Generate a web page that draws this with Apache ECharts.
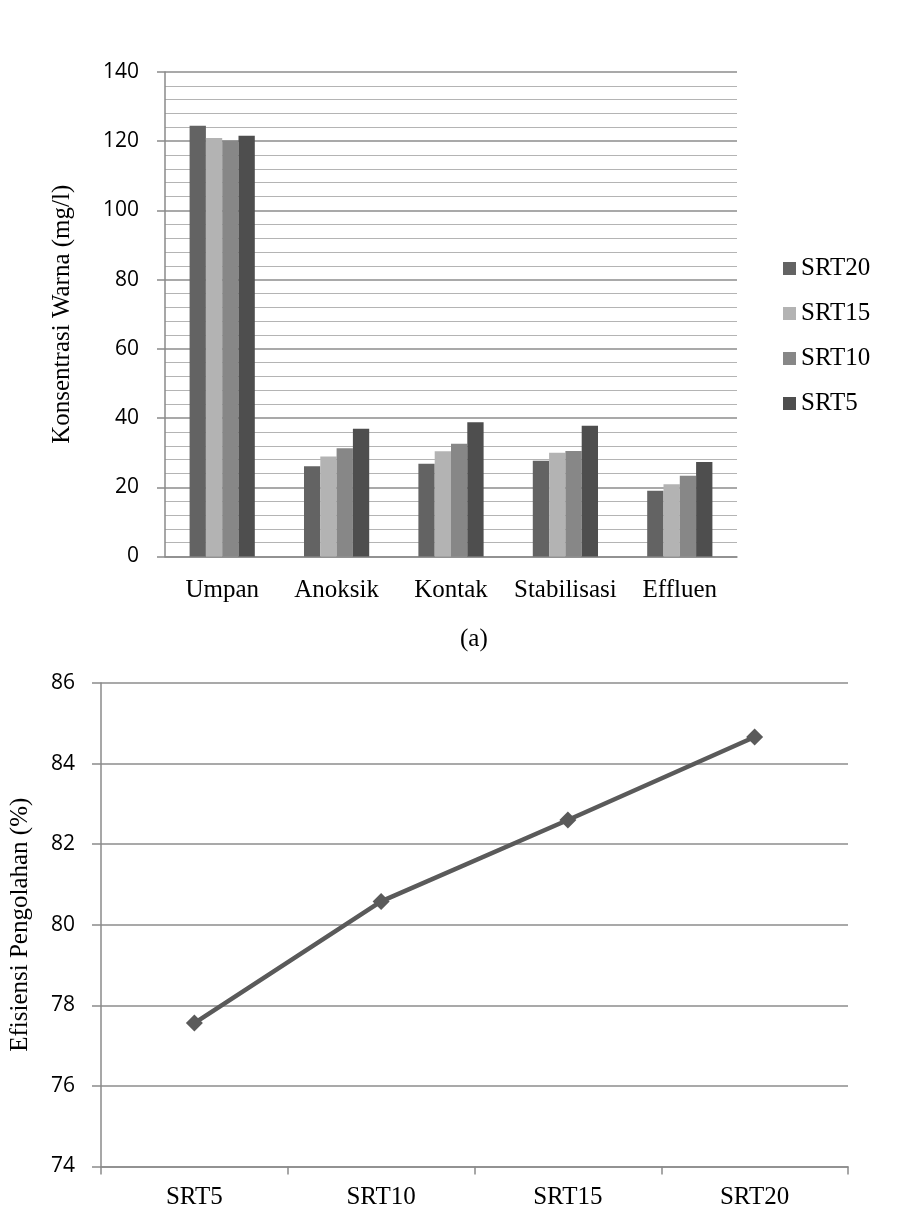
<!DOCTYPE html>
<html>
<head>
<meta charset="utf-8">
<script src="https://cdn.jsdelivr.net/npm/echarts@6/dist/echarts.min.js"></script>
<style>
  html, body { margin: 0; padding: 0; background: #fff; }
  #chart { width: 914px; height: 1212px; }
</style>
</head>
<body>
<div id="chart"></div>
<script>
// top chart (a): colour concentration per unit
var stages = ['Umpan', 'Anoksik', 'Kontak', 'Stabilisasi', 'Effluen'];
var srt20 = [124.5, 26.1, 26.8, 27.7, 19.0];
var srt15 = [120.9, 28.9, 30.4, 30.0, 20.9];
var srt10 = [120.2, 31.3, 32.6, 30.5, 23.3];
var srt5 = [121.6, 36.9, 38.8, 37.8, 27.3];

// bottom chart: treatment efficiency
var srtLabels = ['SRT5', 'SRT10', 'SRT15', 'SRT20'];
var efisiensi = [77.56, 80.58, 82.6, 84.66];

var serif = 'Liberation Serif';
var sans = 'Open Sans';
var axisGray = '#8a8a8a';

var chartDom = document.getElementById('chart');
var myChart = echarts.init(chartDom, null, { renderer: 'canvas' });

function bar(name, data, color) {
    return {
        name: name,
        type: 'bar',
        xAxisIndex: 0,
        yAxisIndex: 0,
        data: data,
        barGap: '0%',
        barCategoryGap: '43%',
        itemStyle: { color: color },
        animation: false
    };
}

var option = {
    backgroundColor: '#fff',
    animation: false,
    grid: [
        { left: 165, right: 177, top: 72, height: 484.5 },
        { left: 98, right: 66, top: 683, height: 483.5 }
    ],
    legend: {
        orient: 'vertical',
        left: 778,
        top: 251,
        itemWidth: 13,
        itemHeight: 13,
        itemGap: 20,
        icon: 'rect',
        data: ['SRT20', 'SRT15', 'SRT10', 'SRT5'],
        textStyle: { fontFamily: serif, fontSize: 25, color: '#000', lineHeight: 25 }
    },
    xAxis: [
        {
            gridIndex: 0,
            type: 'category',
            data: stages,
            axisLine: { lineStyle: { color: axisGray, width: 1.5 } },
            axisTick: { show: false },
            axisLabel: { interval: 0, fontFamily: serif, fontSize: 25, color: '#000', margin: 21 }
        },
        {
            gridIndex: 1,
            type: 'category',
            data: srtLabels,
            axisLine: { lineStyle: { color: axisGray, width: 1.5 } },
            axisTick: { show: true, length: 8, lineStyle: { color: axisGray, width: 1.5 } },
            axisLabel: { interval: 0, fontFamily: serif, fontSize: 25, color: '#000', margin: 18 }
        }
    ],
    yAxis: [
        {
            gridIndex: 0,
            type: 'value',
            min: 0,
            max: 140,
            interval: 20,
            name: 'Konsentrasi Warna (mg/l)',
            nameLocation: 'middle',
            nameGap: 90,
            nameTextStyle: { fontFamily: serif, fontSize: 25, color: '#000' },
            axisLine: { show: true, lineStyle: { color: axisGray, width: 1.5 } },
            axisTick: { show: true, length: 8, lineStyle: { color: axisGray, width: 1.5 } },
            axisLabel: { fontFamily: sans, fontSize: 21, color: '#000', margin: 26 },
            splitLine: { show: true, lineStyle: { color: '#8c8c8c', width: 1.5 } },
            minorTick: { show: false, splitNumber: 5 },
            minorSplitLine: { show: true, lineStyle: { color: '#b4b4b4', width: 1 } }
        },
        {
            gridIndex: 1,
            type: 'value',
            min: 74,
            max: 86,
            interval: 2,
            name: 'Efisiensi Pengolahan (%)',
            nameLocation: 'middle',
            nameGap: 68,
            nameTextStyle: { fontFamily: serif, fontSize: 25, color: '#000' },
            axisLine: { show: true, lineStyle: { color: axisGray, width: 1.5 } },
            axisTick: { show: true, length: 9, lineStyle: { color: axisGray, width: 1.5 } },
            axisLabel: { fontFamily: sans, fontSize: 21, color: '#000', margin: 26 },
            splitLine: { show: true, lineStyle: { color: '#8c8c8c', width: 1.5 } }
        }
    ],
    graphic: [
        {
            type: 'text',
            left: 460,
            top: 627,
            style: { text: '(a)', font: '25px "Liberation Serif"', fill: '#000' }
        }
    ],
    series: [
        bar('SRT20', srt20, '#636363'),
        bar('SRT15', srt15, '#b3b3b3'),
        bar('SRT10', srt10, '#878787'),
        bar('SRT5', srt5, '#4e4e4e'),
        {
            name: 'Efisiensi',
            type: 'line',
            xAxisIndex: 1,
            yAxisIndex: 1,
            data: efisiensi,
            symbol: 'diamond',
            symbolSize: 17,
            itemStyle: { color: '#5a5a5a' },
            lineStyle: { color: '#5a5a5a', width: 4.5 }
        }
    ]
};

option && myChart.setOption(option);
</script>
</body>
</html>
